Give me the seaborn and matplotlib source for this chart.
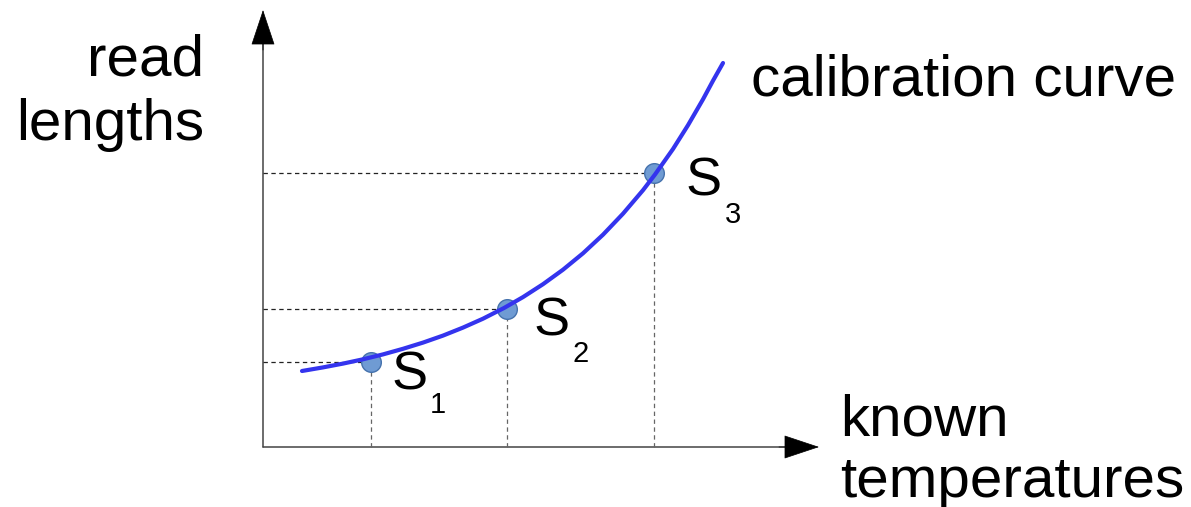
import matplotlib
matplotlib.use("Agg")
import matplotlib.pyplot as plt
import seaborn as sns

# --- DATA (schematic units, origin at the axes corner) ---
curve_temps = [39, 60, 80, 100, 120, 140, 160, 180, 200, 220, 241, 260, 280,
               300, 320, 340, 360, 380, 392, 410, 425, 440, 450, 460]
curve_lengths = [76, 79.6, 83.4, 87.7, 92.6, 98.2, 104.4, 111.4, 119.4, 128.3, 139,
                 149.9, 162.8, 177.3, 193.7, 212.3, 233.3, 256.8, 272.5, 298,
                 321.8, 347.7, 366.3, 384]

sample_temps = [108, 244, 391]
sample_lengths = [85, 138, 274]
sample_names = ["1", "2", "3"]

x_axis_end = 556
y_axis_end = 437

# --- STYLE ---
sns.set_theme(style="white")
plt.rcParams["font.family"] = ["Liberation Sans", "DejaVu Sans"]
plt.rcParams["text.color"] = "black"

fig = plt.figure(figsize=(11.91, 5.07), dpi=100)
ax = fig.add_axes([0, 0, 1, 1])
ax.set_xlim(-263, 928)
ax.set_ylim(-60, 447)
ax.axis("off")

# axes with arrow heads
ax.plot([0, x_axis_end - 20], [0, 0], color="#444444", lw=1.1, zorder=1)
ax.plot([0, 0], [0, y_axis_end - 20], color="#444444", lw=1.1, zorder=1)
head = dict(arrowstyle="-|>,head_length=2.37,head_width=0.79", color="black",
            lw=0.5, mutation_scale=10, shrinkA=0, shrinkB=0)
ax.annotate("", xy=(x_axis_end, 0), xytext=(x_axis_end - 40, 0), arrowprops=head)
ax.annotate("", xy=(0, y_axis_end), xytext=(0, y_axis_end - 40), arrowprops=head)

# dashed guides from each sample to the axes
ax.hlines(sample_lengths, 0, sample_temps, colors="#222222", lw=0.9,
          linestyles=(0, (3.5, 2.8)), zorder=2)
ax.vlines(sample_temps, 0, sample_lengths, colors="#666666", lw=0.9,
          linestyles=(0, (3.5, 2.8)), zorder=2)

# samples and calibration curve
sns.scatterplot(x=sample_temps, y=sample_lengths, s=200, color="#6f9bd3",
                edgecolor="#4572ad", linewidth=1, zorder=3, ax=ax)
sns.lineplot(x=curve_temps, y=curve_lengths, sort=False, color="#3434ee",
             lw=3, zorder=4, ax=ax)

# sample labels S with subscripts (positions relative to the corner)
s_pos = [(128, 57), (271, 112), (423, 252)]
sub_pos = [(167, 34), (310, 85), (462, 224)]
for name, (sx, sy), (bx, by) in zip(sample_names, s_pos, sub_pos):
    ax.text(sx, sy, "S", fontsize=39, ha="left", va="baseline")
    ax.text(bx, by, name, fontsize=21, ha="left", va="baseline")

# axis titles and curve label
ax.text(-59, 447 - 75, "read", fontsize=42, ha="right", va="baseline")
ax.text(-59, 447 - 140, "lengths", fontsize=42, ha="right", va="baseline")
ax.text(840 - 263, 447 - 435, "known", fontsize=42, ha="left", va="baseline")
ax.text(840 - 263, 447 - 497, "temperatures", fontsize=42, ha="left", va="baseline")
ax.text(751 - 263, 447 - 95, "calibration curve", fontsize=42, ha="left", va="baseline")

fig.savefig("out.png", dpi=100)
